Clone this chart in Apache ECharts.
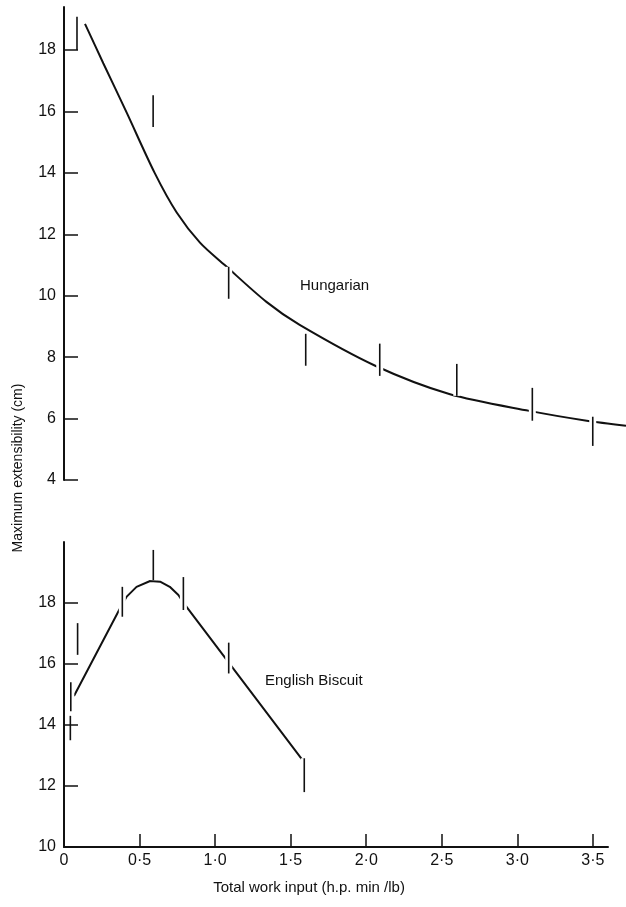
<!DOCTYPE html>
<html>
<head>
<meta charset="utf-8">
<script src="https://cdn.jsdelivr.net/npm/echarts@6/dist/echarts.min.js"></script>
<style>html,body{margin:0;padding:0;background:#fff;}#c{width:626px;height:907px;}</style>
</head>
<body>
<div id="c"></div>
<script>
// Hungarian: fitted curve and error bars
var hungCurveX = [0.139, 0.26, 0.415, 0.60, 0.746, 0.9, 1.066, 1.34, 1.56, 2.06, 2.55, 3.08, 3.46, 3.72];
var hungCurveY = [18.85, 17.57, 15.96, 14.0, 12.71, 11.73, 10.99, 9.8, 9.05, 7.72, 6.8, 6.25, 5.93, 5.77];
var hungBarX = [0.086, 0.59, 1.09, 1.60, 2.09, 2.60, 3.10, 3.50];
var hungBarLow = [18.0, 15.49, 9.9, 7.72, 7.39, 6.74, 5.93, 5.11];
var hungBarHigh = [19.08, 16.53, 10.94, 8.76, 8.44, 7.78, 7.0, 6.06];

// English Biscuit: fitted curve and error bars
var engCurveX = [0.066, 0.371, 0.415, 0.48, 0.57, 0.636, 0.70, 0.757, 0.786, 1.58];
var engCurveY = [14.95, 17.83, 18.21, 18.53, 18.72, 18.70, 18.53, 18.26, 18.04, 12.84];
var engBarX = [0.045, 0.042, 0.09, 0.386, 0.591, 0.79, 1.09, 1.59];
var engBarLow = [14.45, 13.5, 16.3, 17.55, 18.75, 17.77, 15.69, 11.8];
var engBarHigh = [15.4, 14.3, 17.34, 18.53, 19.74, 18.85, 16.7, 12.91];

// Tick values
var topYTicks = [4, 6, 8, 10, 12, 14, 16, 18];
var botYTicks = [10, 12, 14, 16, 18];
var xTicks = [0.5, 1.0, 1.5, 2.0, 2.5, 3.0, 3.5];
var xLabels = [0, 0.5, 1.0, 1.5, 2.0, 2.5, 3.0, 3.5];

var FONT = 'Liberation Sans';
var INK = '#111';

function pairs(xs, ys) { return xs.map(function (x, i) { return [x, ys[i]]; }); }
function bars(xs, lo, hi) { return xs.map(function (x, i) { return [x, lo[i], hi[i]]; }); }

function renderBar(params, api) {
  var x = api.value(0), lo = api.value(1), hi = api.value(2);
  var p1 = api.coord([x, lo]), p2 = api.coord([x, hi]);
  return {
    type: 'group',
    children: [
      { type: 'rect', shape: { x: p1[0] - 3.5, y: p2[1], width: 7, height: p1[1] - p2[1] }, style: { fill: '#fff' } },
      { type: 'line', shape: { x1: p1[0], y1: p1[1], x2: p2[0], y2: p2[1] }, style: { stroke: INK, lineWidth: 1.6 } }
    ]
  };
}

function yAxisCfg(idx, min, max, ticks) {
  return {
    type: 'value', gridIndex: idx, min: min, max: max, z: 10,
    axisLine: { show: true, lineStyle: { color: INK, width: 2 } },
    axisTick: { show: true, inside: true, length: 14, customValues: ticks, lineStyle: { color: INK, width: 1.5 } },
    axisLabel: { customValues: ticks, margin: 8, fontSize: 16, fontFamily: FONT, color: INK },
    splitLine: { show: false }
  };
}

var chart = echarts.init(document.getElementById('c'), null, { renderer: 'canvas' });
chart.setOption({
  backgroundColor: '#fff',
  animation: false,
  grid: [
    { left: 64, top: 7, width: 562, height: 473 },
    { left: 64, top: 542, width: 544, height: 305 }
  ],
  xAxis: [
    { type: 'value', gridIndex: 0, min: 0, max: 3.72, show: false },
    {
      type: 'value', gridIndex: 1, min: 0, max: 3.6, z: 10,
      axisLine: { show: true, lineStyle: { color: INK, width: 2 } },
      axisTick: { show: true, inside: true, length: 13, customValues: xTicks, lineStyle: { color: INK, width: 1.5 } },
      axisLabel: {
        customValues: xLabels, margin: 6, fontSize: 16, fontFamily: FONT, color: INK,
        formatter: function (v) { return v === 0 ? '0' : v.toFixed(1).replace('.', '\u00b7'); }
      },
      splitLine: { show: false }
    }
  ],
  yAxis: [
    yAxisCfg(0, 4, 19.4, topYTicks),
    yAxisCfg(1, 10, 20, botYTicks)
  ],
  series: [
    {
      type: 'line', xAxisIndex: 0, yAxisIndex: 0, data: pairs(hungCurveX, hungCurveY),
      smooth: 0.3, showSymbol: false, lineStyle: { color: INK, width: 2 }, clip: false, z: 2
    },
    {
      type: 'line', xAxisIndex: 1, yAxisIndex: 1, data: pairs(engCurveX, engCurveY),
      smooth: false, showSymbol: false, lineStyle: { color: INK, width: 2 }, clip: false, z: 2
    },
    {
      type: 'custom', xAxisIndex: 0, yAxisIndex: 0, data: bars(hungBarX, hungBarLow, hungBarHigh),
      renderItem: renderBar, encode: { x: 0, y: [1, 2] }, clip: false, z: 3
    },
    {
      type: 'custom', xAxisIndex: 1, yAxisIndex: 1, data: bars(engBarX, engBarLow, engBarHigh),
      renderItem: renderBar, encode: { x: 0, y: [1, 2] }, clip: false, z: 3
    }
  ],
  graphic: [
    { type: 'text', left: 300, top: 278, style: { text: 'Hungarian', fontSize: 15, fontFamily: FONT, fill: INK } },
    { type: 'text', left: 265, top: 673, style: { text: 'English Biscuit', fontSize: 15, fontFamily: FONT, fill: INK } },
    { type: 'text', x: 309, y: 888, style: { text: 'Total work input (h.p. min /lb)', fontSize: 15, fontFamily: FONT, fill: INK, align: 'center', verticalAlign: 'middle' } },
    { type: 'text', x: 18, y: 468, rotation: Math.PI / 2, style: { text: 'Maximum extensibility (cm)', fontSize: 14, fontFamily: FONT, fill: INK, align: 'center', verticalAlign: 'middle' } }
  ]
});
</script>
</body>
</html>
